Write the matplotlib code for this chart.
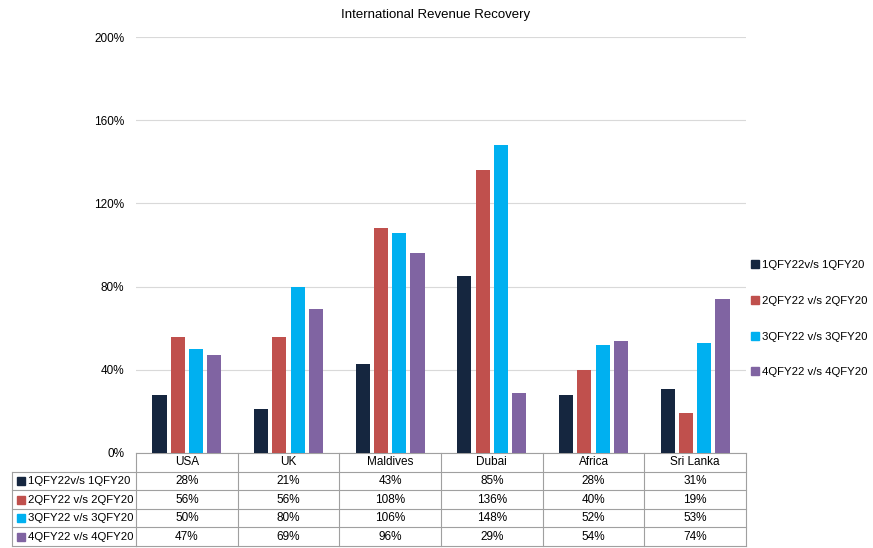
import numpy as np
import matplotlib.pyplot as plt
import matplotlib.transforms as mtransforms
from matplotlib.lines import Line2D

plt.rcParams['font.family'] = ['Liberation Sans', 'DejaVu Sans']

# Data
regions = ["USA", "UK", "Maldives", "Dubai", "Africa", "Sri Lanka"]
series_names = ["1QFY22v/s 1QFY20", "2QFY22 v/s 2QFY20",
                "3QFY22 v/s 3QFY20", "4QFY22 v/s 4QFY20"]
q1 = [28, 21, 43, 85, 28, 31]
q2 = [56, 56, 108, 136, 40, 19]
q3 = [50, 80, 106, 148, 52, 53]
q4 = [47, 69, 96, 29, 54, 74]
yticks = [0, 40, 80, 120, 160, 200]
colors = ["#15263F", "#C0504D", "#00B0F0", "#8064A2"]

series = [q1, q2, q3, q4]

fig = plt.figure(figsize=(8.73, 5.48), dpi=100)
ax = fig.add_axes([0.1558, 0.1734, 0.6987, 0.759])

x = np.arange(len(regions))
w = 0.14
step = 0.18
for i, (vals, c) in enumerate(zip(series, colors)):
    ax.bar(x + (i - 1.5) * step, vals, width=w, color=c, zorder=3)

ax.set_xlim(-0.5, len(regions) - 0.5)
ax.set_ylim(0, 200)
ax.set_yticks(yticks)
ax.set_yticklabels([f"{t}%" for t in yticks])
ax.yaxis.grid(True, color="#d9d9d9", lw=0.8, zorder=0)
ax.set_xticks([])
for s in ax.spines.values():
    s.set_visible(False)
ax.tick_params(axis='y', length=0, pad=8.5, labelsize=8.5)

fig.text(0.4994, 1 - 15 / 548, "International Revenue Recovery",
         ha='center', va='center', fontsize=9.5)

# Legend on the right
handles = [Line2D([], [], marker='s', ls='', color=c, markersize=6) for c in colors]
ax.legend(handles, series_names, loc='center left', bbox_to_anchor=(1.004, 0.323),
          frameon=False, fontsize=8.2, handlelength=0.8, handletextpad=0.2,
          labelspacing=2.27, borderaxespad=0, borderpad=0.2)

# Data table below the axes
trans = mtransforms.blended_transform_factory(ax.transData, ax.transAxes)
h0 = 19 / 416
rh = 18.5 / 416
left = -124 / 610
line_kw = dict(color="#a0a0a0", lw=0.8, clip_on=False)
bottom = -(h0 + 4 * rh)

# header
ax.plot([-0.5, len(regions) - 0.5], [0, 0], transform=trans, **line_kw)
for j, r in enumerate(regions):
    ax.text(j, -h0 / 2, r, transform=trans, ha='center', va='center', fontsize=8.5)
for b in np.arange(len(regions) + 1) - 0.5:
    ax.plot([b, b], [0, bottom], transform=trans, **line_kw)

# rows
for i, (vals, c, name) in enumerate(zip(series, colors, series_names)):
    top = -(h0 + i * rh)
    ax.plot([left, 0], [top, top], transform=ax.transAxes, **line_kw)
    ax.plot([-0.5, len(regions) - 0.5], [top, top], transform=trans, **line_kw)
    yc = top - rh / 2
    ax.plot([left + 8.5 / 610], [yc], marker='s', ms=5.5, color=c,
            transform=ax.transAxes, clip_on=False)
    ax.text(left + 15.5 / 610, yc, name, transform=ax.transAxes,
            ha='left', va='center', fontsize=8.2)
    for j, v in enumerate(vals):
        ax.text(j, yc, f"{v}%", transform=trans, ha='center', va='center', fontsize=8.5)

ax.plot([left, 0], [bottom, bottom], transform=ax.transAxes, **line_kw)
ax.plot([-0.5, len(regions) - 0.5], [bottom, bottom], transform=trans, **line_kw)
ax.plot([left, left], [-h0, bottom], transform=ax.transAxes, **line_kw)

fig.savefig("out.png", dpi=100)
